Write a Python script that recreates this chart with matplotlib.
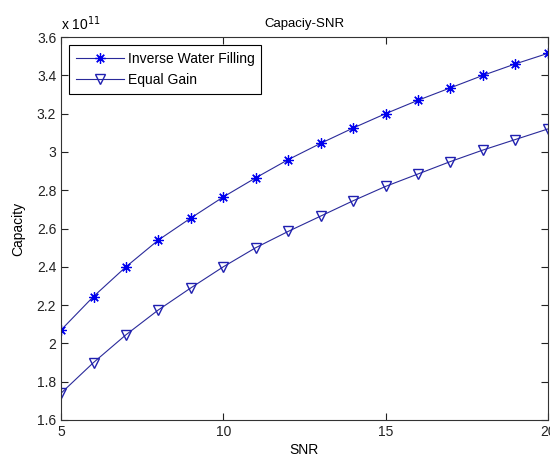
import matplotlib.pyplot as plt

plt.rcParams['font.family'] = ['Liberation Sans', 'DejaVu Sans']
plt.rcParams['font.size'] = 10

snr = list(range(5, 21))
# capacity in units of 1e11
inverse_wf = [2.07, 2.245, 2.40, 2.54, 2.655, 2.765, 2.865, 2.96,
              3.045, 3.125, 3.20, 3.27, 3.335, 3.40, 3.46, 3.515]
equal_gain = [1.74, 1.90, 2.045, 2.175, 2.29, 2.40, 2.50, 2.585,
              2.665, 2.745, 2.82, 2.885, 2.95, 3.01, 3.065, 3.12]

fig = plt.figure(figsize=(5.5, 4.58), dpi=100)
ax = fig.add_axes([0.111, 0.083, 0.885, 0.836])

# asterisk marker: plus and cross on top of each other
ax.plot(snr, inverse_wf, '-', marker=(8, 2, 0), color='#2a2a9a', lw=0.8,
        mec='#0000ee', ms=7.5, mew=0.9, label='Inverse Water Filling')
ax.plot(snr, equal_gain, '-v', color='#2a2a9a', lw=0.8, mec='#2020b0', mfc='none',
        ms=7.5, mew=1.0, label='Equal Gain')

ax.set_xlim(5, 20)
ax.set_ylim(1.6, 3.6)
ax.set_xticks([5, 10, 15, 20])
ax.set_yticks([1.6, 1.8, 2.0, 2.2, 2.4, 2.6, 2.8, 3.0, 3.2, 3.4, 3.6])
ax.set_yticklabels(['1.6', '1.8', '2', '2.2', '2.4', '2.6', '2.8', '3', '3.2', '3.4', '3.6'])
ax.tick_params(direction='in', top=True, right=True, length=5, width=0.8, colors='#222222')
for s in ax.spines.values():
    s.set_linewidth(0.8)
    s.set_color('#333333')

ax.text(0.0, 1.012, r'x 10$^{11}$', transform=ax.transAxes, ha='left', va='bottom', fontsize=10)
ax.set_title('Capaciy-SNR', fontsize=9.5, pad=7)
ax.set_xlabel('SNR', labelpad=3)
ax.set_ylabel('Capacity', labelpad=8)

leg = ax.legend(loc='upper left', fancybox=False, edgecolor='black', framealpha=1,
                borderaxespad=0.6, handlelength=3.5, handletextpad=0.3,
                borderpad=0.45, labelspacing=0.55, fontsize=10)
leg.get_frame().set_linewidth(0.8)

fig.savefig('out.png', dpi=100, facecolor='white')
